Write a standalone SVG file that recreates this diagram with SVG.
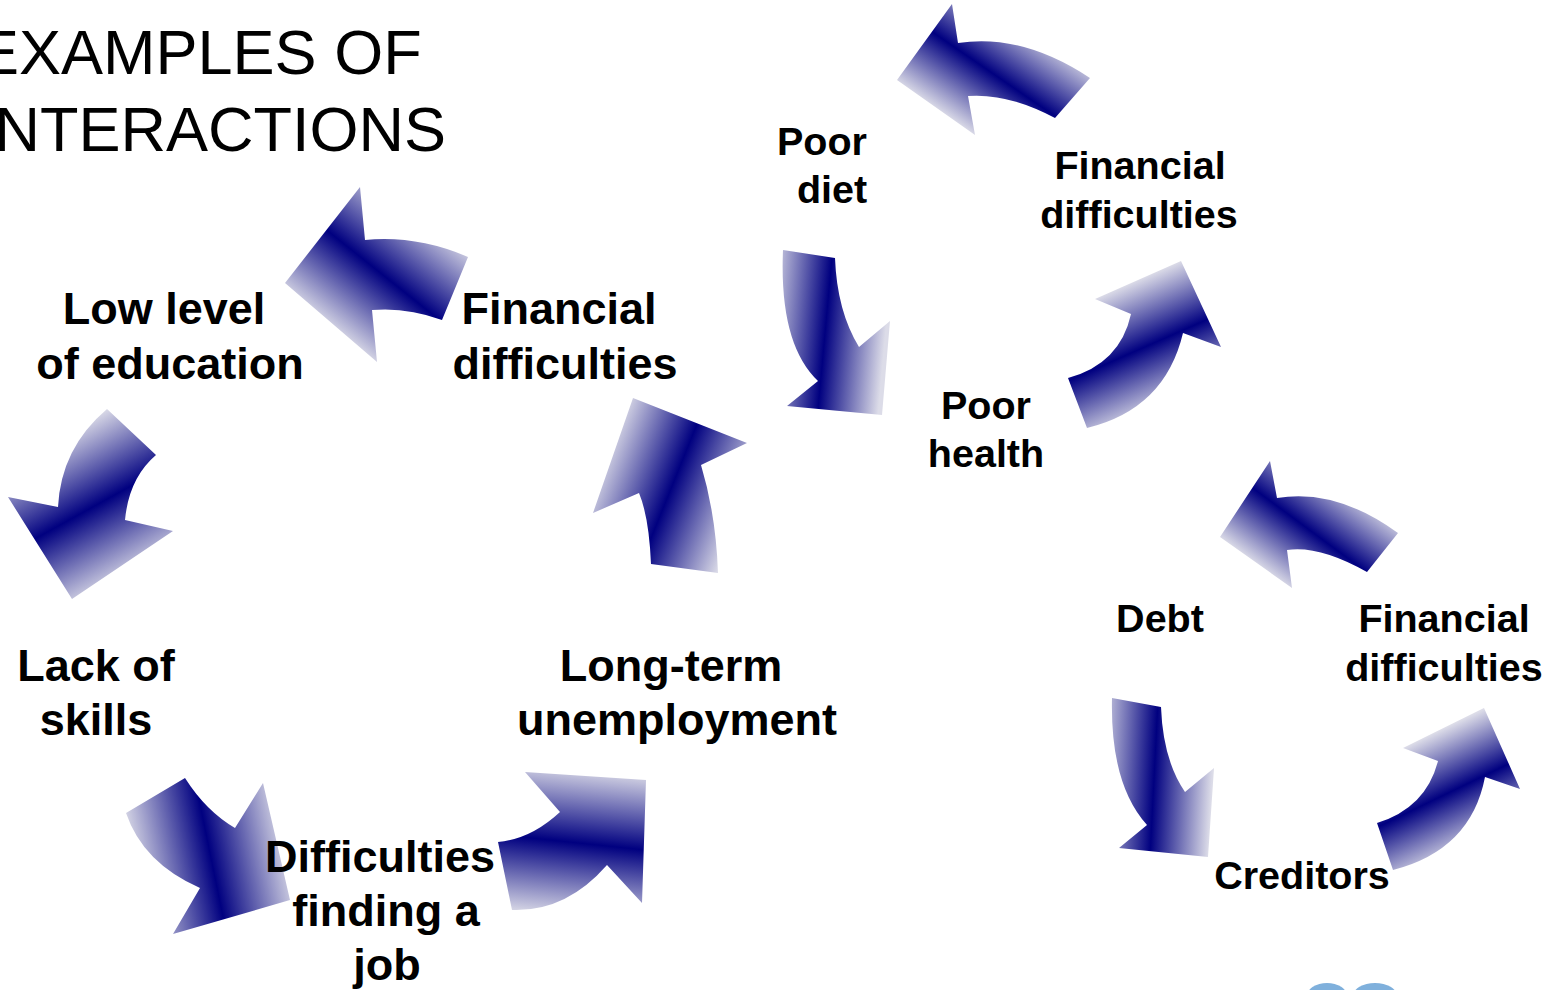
<svg xmlns="http://www.w3.org/2000/svg" xmlns:xlink="http://www.w3.org/1999/xlink" width="1562" height="990" viewBox="0 0 1562 990">
<style>
.title{font-family:"Liberation Sans",Arial,sans-serif;font-size:63px;fill:#000}
.big{font-family:"Liberation Sans",Arial,sans-serif;font-weight:bold;font-size:45px;fill:#000;text-anchor:middle}
.sm{font-family:"Liberation Sans",Arial,sans-serif;font-weight:bold;font-size:39.5px;fill:#000;text-anchor:middle}
</style>
<defs>
<linearGradient id="base" gradientUnits="userSpaceOnUse">
<stop offset="0" stop-color="#dcdce8"/>
<stop offset="0.5" stop-color="#000080"/>
<stop offset="1" stop-color="#dcdce8"/>
</linearGradient>
<linearGradient id="gA" xlink:href="#base" x1="336" y1="334" x2="430" y2="216"/>
<linearGradient id="gB" xlink:href="#base" x1="47" y1="441" x2="124" y2="581"/>
<linearGradient id="gC" xlink:href="#base" x1="135" y1="876" x2="288" y2="845"/>
<linearGradient id="gD" xlink:href="#base" x1="575" y1="919" x2="591" y2="768"/>
<linearGradient id="gE" xlink:href="#base" x1="605" y1="452" x2="744" y2="508"/>
<linearGradient id="gF" xlink:href="#base" x1="765" y1="328" x2="885" y2="339"/>
<linearGradient id="gG" xlink:href="#base" x1="960" y1="126" x2="1030" y2="24"/>
<linearGradient id="gH" xlink:href="#base" x1="1112" y1="291" x2="1164" y2="409"/>
<linearGradient id="gI" xlink:href="#base" x1="1274" y1="578" x2="1345" y2="482"/>
<linearGradient id="gJ" xlink:href="#base" x1="1096" y1="776" x2="1212" y2="782"/>
<linearGradient id="gK" xlink:href="#base" x1="1416" y1="742" x2="1468" y2="850"/>
</defs>
<rect width="1562" height="990" fill="#fff"/>
<g id="title">
<text class="title" x="-23" y="74">EXAMPLES OF</text>
<text class="title" x="-23" y="151">INTERACTIONS</text>
</g>
<g id="connectors">
<path fill="url(#gA)" d="M285,283 L360,187 L365,240 Q417,235 468,257 L442,320 Q407,307 372,310 L377,362 Z"/>
<path fill="url(#gB)" d="M107,409 L156,455 Q129,478 125,520 L173,531 L72,599 L8,497 L58,507 Q61,448 107,409 Z"/>
<path fill="url(#gC)" d="M185,778 L126,813 Q143,863 200,888 L173,934 L290,900 L263,783 L235,828 Q206,811 185,778 Z"/>
<path fill="url(#gD)" d="M498,842 L512,910 Q566,912 607,865 L642,903 L646,780 L525,772 L560,812 Q531,839 498,842 Z"/>
<path fill="url(#gE)" d="M651,564 L718,573 Q716,515 701,465 L747,443 L633,398 L593,513 L639,493 Q649,517 651,564 Z"/>
<path fill="url(#gF)" d="M783,250 L835,258 Q837,311 859,347 L890,321 L882,415 L787,406 L818,381 Q779,344 783,250 Z"/>
<path fill="url(#gG)" d="M897,80 L952,4 L958,43 Q1022,33 1090,78 L1055,118 Q1008,93 968,96 L975,135 Z"/>
<path fill="url(#gH)" d="M1068,378 L1087,428 Q1165,409 1183,333 L1221,347 L1181,261 L1095,299 L1131,314 Q1120,364 1068,378 Z"/>
<path fill="url(#gI)" d="M1220,537 L1270,461 L1277,498 Q1336,488 1398,533 L1367,572 Q1319,545 1287,550 L1292,588 Z"/>
<path fill="url(#gJ)" d="M1112,698 L1161,707 Q1163,760 1185,792 L1214,768 L1208,857 L1119,848 L1147,825 Q1110,784 1112,698 Z"/>
<path fill="url(#gK)" d="M1377,823 L1393,870 Q1471,850 1485,777 L1520,789 L1484,708 L1403,748 L1438,761 Q1426,808 1377,823 Z"/>
</g>
<g id="node-low-education"><text class="big" x="164" y="324">Low level</text><text class="big" x="170" y="379">of education</text></g>
<g id="node-financial-1"><text class="big" x="559" y="324">Financial</text><text class="big" x="565" y="379">difficulties</text></g>
<g id="node-lack-skills"><text class="big" x="96" y="681">Lack of</text><text class="big" x="96" y="735">skills</text></g>
<g id="node-long-term"><text class="big" x="671" y="681">Long-term</text><text class="big" x="677" y="735">unemployment</text></g>
<g id="node-difficulties-job"><text class="big" x="380" y="872">Difficulties</text><text class="big" x="386" y="926">finding a</text><text class="big" x="387" y="980">job</text></g>
<g id="node-poor-diet"><text class="sm" x="822" y="155">Poor</text><text class="sm" x="832" y="203">diet</text></g>
<g id="node-financial-2"><text class="sm" x="1140" y="179">Financial</text><text class="sm" x="1139" y="228">difficulties</text></g>
<g id="node-poor-health"><text class="sm" x="986" y="419">Poor</text><text class="sm" x="986" y="467">health</text></g>
<g id="node-debt"><text class="sm" x="1160" y="632">Debt</text></g>
<g id="node-financial-3"><text class="sm" x="1444" y="632">Financial</text><text class="sm" x="1444" y="681">difficulties</text></g>
<g id="node-creditors"><text class="sm" x="1302" y="889">Creditors</text></g>
<g id="logo">
<ellipse cx="1327" cy="996" rx="20" ry="13" fill="#7fb0dc"/>
<ellipse cx="1375" cy="996" rx="22" ry="13" fill="#7fb0dc"/>
</g>
</svg>
